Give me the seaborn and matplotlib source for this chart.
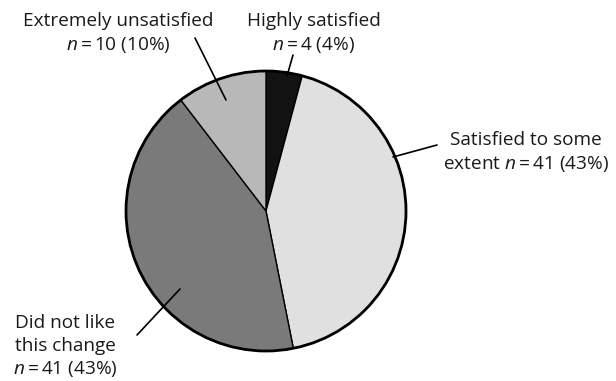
import matplotlib
matplotlib.use("Agg")
import matplotlib.pyplot as plt
import seaborn as sns

categories = ["Highly satisfied", "Satisfied to some extent", "Did not like this change", "Extremely unsatisfied"]
counts = [4, 41, 41, 10]
percents = [4, 43, 43, 10]
colors = ["#121212", "#e0e0e0", "#7a7a7a", "#b8b8b8"]

sns.set_theme(style="white")
plt.rcParams["font.family"] = ["Open Sans", "DejaVu Sans"]
plt.rcParams["mathtext.fontset"] = "custom"
plt.rcParams["mathtext.rm"] = "Open Sans"
plt.rcParams["mathtext.it"] = "Open Sans:italic"

W, H = 616, 381
fig = plt.figure(figsize=(6.16, 3.81), dpi=100)
ax = fig.add_axes([0, 0, 1, 1])

cx, cy, r = 266, H - 211, 140
wedges, _ = ax.pie(counts, colors=colors, startangle=90, counterclock=False,
                   center=(cx, cy), radius=r, frame=True,
                   wedgeprops=dict(edgecolor="black", linewidth=1.0))
ax.set_xlim(0, W)
ax.set_ylim(0, H)
ax.set_aspect("equal")
ax.axis("off")
outline = plt.Circle((cx, cy), r, fill=False, edgecolor="black", linewidth=2.0)
ax.add_patch(outline)

fs = 13.7
def lab(x, y, s, ha="center"):
    ax.text(x, H - y, s, ha=ha, va="center", fontsize=fs, color="#1a1a1a")

def ntxt(i):
    return f"$n$\u2009=\u2009{counts[i]} ({percents[i]}%)"

# Extremely unsatisfied
lab(118, 21, "Extremely unsatisfied")
lab(118, 45, ntxt(3))
ax.plot([195, 226], [H - 38, H - 100], color="black", lw=1.2)
# Highly satisfied
lab(314, 21, "Highly satisfied")
lab(313, 45, ntxt(0))
ax.plot([293, 287], [H - 55, H - 76], color="black", lw=1.2)
# Satisfied to some extent
lab(526, 140, "Satisfied to some")
lab(526, 164, "extent " + ntxt(1))
ax.plot([437, 393], [H - 145, H - 157], color="black", lw=1.2)
# Did not like this change
lab(65, 323, "Did not like")
lab(65, 346, "this change")
lab(65, 369, ntxt(2))
ax.plot([180, 137], [H - 289, H - 335], color="black", lw=1.2)

fig.savefig("out.png", dpi=100, facecolor="white")
